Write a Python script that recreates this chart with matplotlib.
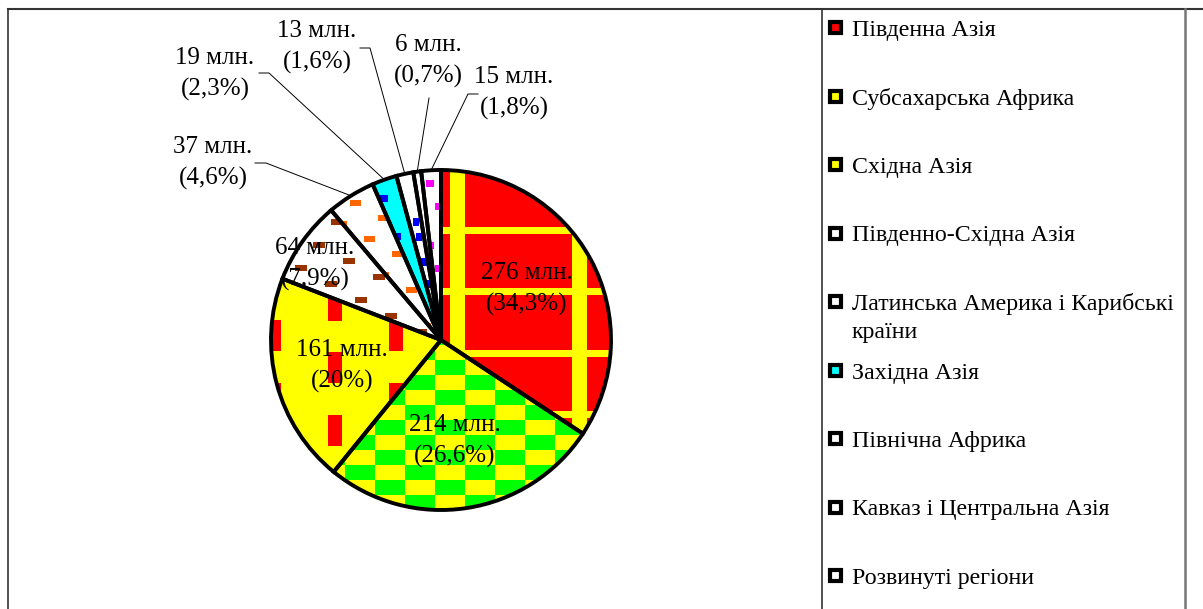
import numpy as np
import matplotlib
matplotlib.use('Agg')
import matplotlib.pyplot as plt
from matplotlib.patches import Rectangle, Wedge

plt.rcParams['font.family'] = ['Liberation Serif', 'DejaVu Serif']

# data
regions = ['Південна Азія', 'Субсахарська Африка', 'Східна Азія', 'Південно-Східна Азія',
           'Латинська Америка і Карибські\nкраїни', 'Західна Азія', 'Північна Африка',
           'Кавказ і Центральна Азія', 'Розвинуті регіони']
values = [276, 214, 161, 64, 37, 19, 13, 6, 15]
shares = ['34,3', '26,6', '20', '7,9', '4,6', '2,3', '1,6', '0,7', '1,8']

base_colors = ['#FF0000', '#FFFF00', '#FFFF00', '#FFFFFF', '#FFFFFF', '#00FFFF', '#FFFFFF', '#FFFFFF', '#FFFFFF']

W, H = 1203, 609
fig = plt.figure(figsize=(W / 100, H / 100), dpi=100)
ax = fig.add_axes([0, 0, 1, 1])

cx, cy, R = 441, H - 340, 170
wedges, _ = ax.pie(values, colors=base_colors, startangle=90, counterclock=False,
                   center=(cx, cy), radius=R,
                   wedgeprops=dict(edgecolor='none', linewidth=0))
ax.set_xlim(0, W)
ax.set_ylim(0, H)
ax.set_aspect('equal')
ax.axis('off')

for w in wedges:
    w.set_zorder(1)
    # black outline on top of the patterns
    ax.add_patch(Wedge(w.center, w.r, w.theta1, w.theta2, fill=False,
                       edgecolor='black', linewidth=2.8, zorder=2.5))


def img(x, y):
    return x, H - y


def add_rect(wedge, x, y, w, h, color):
    # x, y = top-left corner in image pixels
    r = Rectangle((x, H - y - h), w, h, facecolor=color, edgecolor='none', zorder=1.5)
    ax.add_patch(r)
    r.set_clip_path(wedge)


# patterns inside slices
# South Asia: red with yellow plaid
w = wedges[0]
for xv in [328, 450, 572]:
    add_rect(w, xv, 160, 15, 360, '#FFFF00')
for yh in [227, 288, 350, 411, 472]:
    add_rect(w, 430, yh, 200, 7, '#FFFF00')

# Sub-Saharan Africa: yellow/green checkerboard
w = wedges[1]
for i in range(-4, 10):
    for j in range(-2, 12):
        if (i + j) % 2 == 1:
            add_rect(w, 375 + 30 * i, 345 + 15 * j, 30, 15, '#00FF00')

# East Asia: yellow with red dashes
w = wedges[2]
for k, xc in enumerate([213, 274, 335, 396]):
    off = 320 if k % 2 == 1 else 352
    for yy in np.arange(off - 125, 520, 62.5):
        add_rect(w, xc - 7, yy, 14, 31, '#FF0000')

# South-East Asia: white with brown bricks
w = wedges[3]
for i in range(-8, 8):
    for j in range(-8, 8):
        x = 313 + 30 * i - 18 * j
        y = 242 + 16 * i + 23 * j
        add_rect(w, x, y, 12, 6, '#993300')

# Latin America: white with orange bricks
w = wedges[4]
for i in range(-8, 8):
    for j in range(-8, 8):
        x = 350 + 28 * i - 14 * j
        y = 200 + 15 * i + 21 * j
        add_rect(w, x, y, 11, 6, '#FF6600')

# Western Asia: cyan with blue dots
w = wedges[5]
for yy in range(195, 340, 38):
    add_rect(w, 380 + (yy - 195) * 0.33, yy, 8, 7, '#0000FF')

# North Africa: white with blue dots
w = wedges[6]
for yy in [218, 233, 258, 280, 305]:
    add_rect(w, 413 + (yy - 218) * 0.2, yy, 6, 8, '#0000FF')

# Developed regions: white with magenta dots
w = wedges[8]
for k, yy in enumerate([180, 203, 242, 265, 300]):
    add_rect(w, 426 + (k % 2) * 9, yy, 8, 7, '#FF00FF')

# value labels inside / outside the pie
inside_pos = [(527, 289), (455, 441), (342, 366), (315, 264)]
outside_pos = [(213, 163), (215, 74), (317, 47), (428, 61), (514, 93)]
leaders = [
    [(255, 163), (266, 163)],
    [(259, 73), (269, 73)],
    [(360, 48), (370, 48)],
    [(429, 98), (429, 98)],
    [(478, 94), (468, 94)],
]
fs = 18
for k in range(len(values)):
    txt = f'{values[k]} млн.\n({shares[k]}%)'
    if k < 4:
        x, y = img(*inside_pos[k])
    else:
        x, y = img(*outside_pos[k - 4])
    ax.text(x, y, txt, ha='center', va='center', fontsize=fs, linespacing=1.55, zorder=3)
    if k >= 4:
        th1, th2 = np.radians(wedges[k].theta1), np.radians(wedges[k].theta2)
        mid = (th1 + th2) / 2
        ex, ey = cx + R * np.cos(mid), cy + R * np.sin(mid)
        (x0, y0), (x1, y1) = leaders[k - 4]
        ax.plot([x0, x1, ex], [H - y0, H - y1, ey], color='black', lw=0.7, zorder=3)

# table frame lines
ax.plot([8, W], [H - 9, H - 9], color='#333333', lw=1.5)
ax.plot([8, 8], [H - 9, 0], color='#333333', lw=1.2)
ax.plot([822, 822], [H - 9, 0], color='#333333', lw=1.2)
ax.plot([1185, 1185], [H - 9, 0], color='#777777', lw=1.8)

# legend
for k, name in enumerate(regions):
    yc = 27 + 68.5 * k
    ax.add_patch(Rectangle((829.5, H - yc - 6), 11, 11, facecolor=base_colors[k],
                           edgecolor='black', linewidth=3, zorder=3))
    lines = name.split('\n')
    for n, line in enumerate(lines):
        ax.text(852, H - (yc + 9 + 28 * n), line, ha='left', va='baseline',
                fontsize=17.2, zorder=3)

fig.savefig('out.png', dpi=100)
